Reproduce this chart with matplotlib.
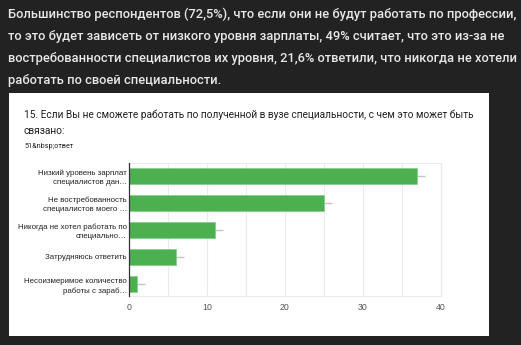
import matplotlib.pyplot as plt
from matplotlib.patches import Rectangle

plt.rcParams["font.family"] = ["Roboto", "DejaVu Sans"]

# данные с графика
categories = [
    "Низкий уровень зарплат\nспециалистов дан…",
    "Не востребованность\nспециалистов моего …",
    "Никогда не хотел работать по\nспециально…",
    "Затрудняюсь ответить",
    "Несоизмеримое количество\nработы с зараб…",
]
counts = [37, 25, 11, 6, 1]
spread = [1, 1, 1, 1, 1]
xticks = [0, 10, 20, 30, 40]

intro_lines = [
    "Большинство респондентов (72,5%), что если они не будут работать по профессии,",
    "то это будет зависеть от низкого уровня зарплаты, 49% считает, что это из-за не",
    "востребованности специалистов их уровня, 21,6% ответили, что никогда не хотели",
    "работать по своей специальности.",
]
question = "15. Если Вы не сможете работать по полученной в вузе специальности, с чем это может быть\nсвязано:"
answers = "51&nbsp;ответ"

W, H = 521, 345
fig = plt.figure(figsize=(W / 100, H / 100), dpi=100, facecolor="#222222")

# белая карточка
fig.patches.append(Rectangle((9 / W, 1 - 336 / H), 480 / W, 243 / H,
                             transform=fig.transFigure, facecolor="white",
                             edgecolor="none", zorder=-1))

# текст сверху
for i, line in enumerate(intro_lines):
    fig.text(8 / W, 1 - (14 + i * 22.3) / H, line, color="#e8e8e8",
             fontsize=9.25, fontweight="medium", va="center", ha="left")

fig.text(24 / W, 1 - 123 / H, question, color="#202124", fontsize=7.3,
         va="center", ha="left", linespacing=1.8)
fig.text(24 / W, 1 - 147 / H, answers, color="#202124", fontsize=5.2,
         va="center", ha="left")

ax = fig.add_axes([129 / W, 1 - 296 / H, (440.7 - 129) / W, 133 / H])
ax.set_zorder(2)
ax.set_facecolor("white")
y = list(range(len(categories)))
ax.errorbar(counts, y, xerr=spread, fmt="none", ecolor="#c4c4c4",
            elinewidth=1, capsize=0, zorder=1)
ax.barh(y, counts, height=0.6, color="#4caf50", edgecolor="#7fcf83",
        linewidth=0.5, zorder=2)

ax.set_xlim(0, 40)
ax.set_ylim(4.45, -0.48)
ax.set_xticks(xticks)
ax.set_xticks(range(5, 40, 10), minor=True)
ax.grid(True, axis="x", which="both", color="#ebebeb", linewidth=0.8, zorder=0)
ax.set_axisbelow(True)
ax.set_yticks(y)
ax.set_yticklabels(categories, fontsize=5.65, color="#222222", linespacing=1.45,
                   family="Liberation Sans")
for lbl in ax.get_xticklabels():
    lbl.set_family("Liberation Sans")
ax.tick_params(axis="x", labelsize=6.3, labelcolor="#555555", length=0, pad=5)
ax.tick_params(axis="y", length=0, pad=1.5)
ax.tick_params(which="minor", length=0)
for side in ["top", "right", "bottom"]:
    ax.spines[side].set_color("#ebebeb")
    ax.spines[side].set_linewidth(0.8)
ax.spines["left"].set_color("#333333")
ax.spines["left"].set_linewidth(0.9)
ax.spines["left"].set_zorder(3)

fig.savefig("out.png", dpi=100, facecolor=fig.get_facecolor())
